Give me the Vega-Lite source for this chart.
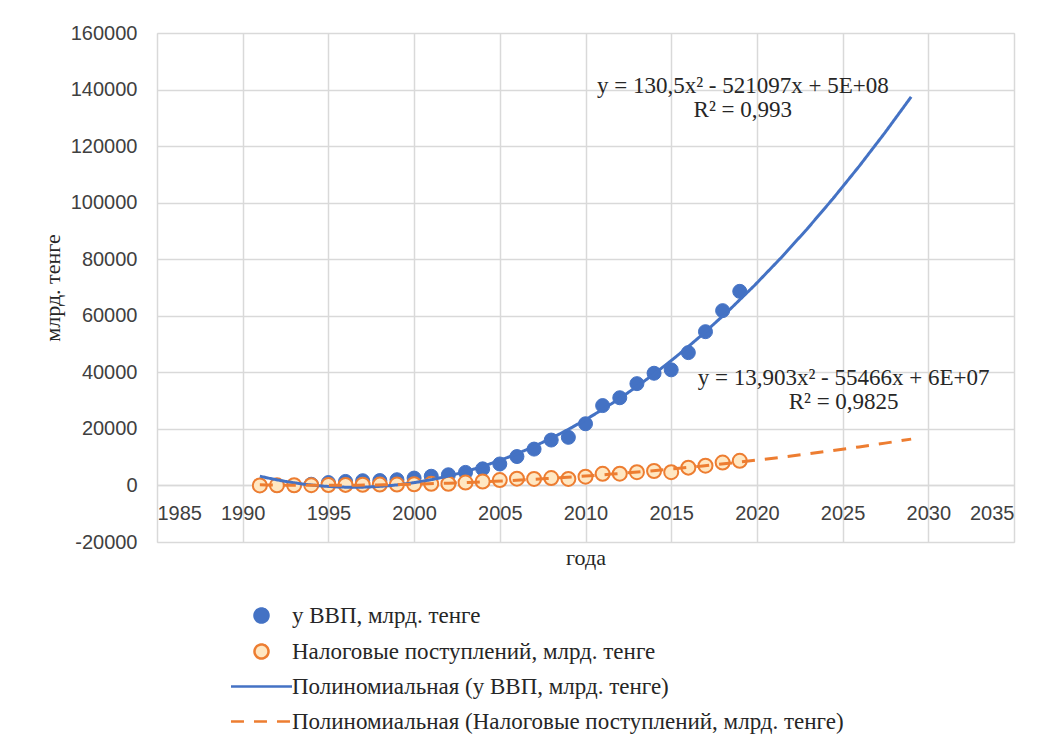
{
  "$schema": "https://vega.github.io/schema/vega-lite/v6.json",
  "width": 857,
  "height": 509,
  "autosize": {"type": "none"},
  "padding": {"left": 157, "top": 33, "right": 35, "bottom": 203},
  "background": "white",
  "config": {
    "view": {"stroke": "#d9d9d9"},
    "axis": {
      "gridColor": "#d9d9d9",
      "gridWidth": 1.5,
      "domainColor": "#d9d9d9",
      "domainWidth": 1.5,
      "ticks": false,
      "tickSize": 0,
      "labelFont": "Liberation Sans",
      "labelFontSize": 20,
      "labelColor": "#404040",
      "titleFont": "Liberation Serif",
      "titleFontSize": 22,
      "titleFontWeight": "normal",
      "titleColor": "#262626"
    },
    "legend": {"padding": 0}
  },
  "datasets": {
    "main": [
      {"year": 1991, "series": "у ВВП, млрд. тенге", "value": 1},
      {"year": 1992, "series": "у ВВП, млрд. тенге", "value": 3},
      {"year": 1993, "series": "у ВВП, млрд. тенге", "value": 29},
      {"year": 1994, "series": "у ВВП, млрд. тенге", "value": 424},
      {"year": 1995, "series": "у ВВП, млрд. тенге", "value": 1014},
      {"year": 1996, "series": "у ВВП, млрд. тенге", "value": 1416},
      {"year": 1997, "series": "у ВВП, млрд. тенге", "value": 1672},
      {"year": 1998, "series": "у ВВП, млрд. тенге", "value": 1733},
      {"year": 1999, "series": "у ВВП, млрд. тенге", "value": 2017},
      {"year": 2000, "series": "у ВВП, млрд. тенге", "value": 2600},
      {"year": 2001, "series": "у ВВП, млрд. тенге", "value": 3251},
      {"year": 2002, "series": "у ВВП, млрд. тенге", "value": 3776},
      {"year": 2003, "series": "у ВВП, млрд. тенге", "value": 4612},
      {"year": 2004, "series": "у ВВП, млрд. тенге", "value": 5870},
      {"year": 2005, "series": "у ВВП, млрд. тенге", "value": 7591},
      {"year": 2006, "series": "у ВВП, млрд. тенге", "value": 10214},
      {"year": 2007, "series": "у ВВП, млрд. тенге", "value": 12850},
      {"year": 2008, "series": "у ВВП, млрд. тенге", "value": 16053},
      {"year": 2009, "series": "у ВВП, млрд. тенге", "value": 17008},
      {"year": 2010, "series": "у ВВП, млрд. тенге", "value": 21816},
      {"year": 2011, "series": "у ВВП, млрд. тенге", "value": 28243},
      {"year": 2012, "series": "у ВВП, млрд. тенге", "value": 31015},
      {"year": 2013, "series": "у ВВП, млрд. тенге", "value": 35999},
      {"year": 2014, "series": "у ВВП, млрд. тенге", "value": 39676},
      {"year": 2015, "series": "у ВВП, млрд. тенге", "value": 40884},
      {"year": 2016, "series": "у ВВП, млрд. тенге", "value": 46971},
      {"year": 2017, "series": "у ВВП, млрд. тенге", "value": 54379},
      {"year": 2018, "series": "у ВВП, млрд. тенге", "value": 61820},
      {"year": 2019, "series": "у ВВП, млрд. тенге", "value": 68640},
      {"year": 1991, "series": "Налоговые поступлений, млрд. тенге", "value": 10},
      {"year": 1992, "series": "Налоговые поступлений, млрд. тенге", "value": 30},
      {"year": 1993, "series": "Налоговые поступлений, млрд. тенге", "value": 60},
      {"year": 1994, "series": "Налоговые поступлений, млрд. тенге", "value": 100},
      {"year": 1995, "series": "Налоговые поступлений, млрд. тенге", "value": 150},
      {"year": 1996, "series": "Налоговые поступлений, млрд. тенге", "value": 200},
      {"year": 1997, "series": "Налоговые поступлений, млрд. тенге", "value": 250},
      {"year": 1998, "series": "Налоговые поступлений, млрд. тенге", "value": 290},
      {"year": 1999, "series": "Налоговые поступлений, млрд. тенге", "value": 300},
      {"year": 2000, "series": "Налоговые поступлений, млрд. тенге", "value": 420},
      {"year": 2001, "series": "Налоговые поступлений, млрд. тенге", "value": 560},
      {"year": 2002, "series": "Налоговые поступлений, млрд. тенге", "value": 600},
      {"year": 2003, "series": "Налоговые поступлений, млрд. тенге", "value": 1000},
      {"year": 2004, "series": "Налоговые поступлений, млрд. тенге", "value": 1400},
      {"year": 2005, "series": "Налоговые поступлений, млрд. тенге", "value": 1900},
      {"year": 2006, "series": "Налоговые поступлений, млрд. тенге", "value": 2400},
      {"year": 2007, "series": "Налоговые поступлений, млрд. тенге", "value": 2300},
      {"year": 2008, "series": "Налоговые поступлений, млрд. тенге", "value": 2600},
      {"year": 2009, "series": "Налоговые поступлений, млрд. тенге", "value": 2300},
      {"year": 2010, "series": "Налоговые поступлений, млрд. тенге", "value": 3100},
      {"year": 2011, "series": "Налоговые поступлений, млрд. тенге", "value": 4100},
      {"year": 2012, "series": "Налоговые поступлений, млрд. тенге", "value": 4150},
      {"year": 2013, "series": "Налоговые поступлений, млрд. тенге", "value": 4700},
      {"year": 2014, "series": "Налоговые поступлений, млрд. тенге", "value": 5100},
      {"year": 2015, "series": "Налоговые поступлений, млрд. тенге", "value": 4700},
      {"year": 2016, "series": "Налоговые поступлений, млрд. тенге", "value": 6300},
      {"year": 2017, "series": "Налоговые поступлений, млрд. тенге", "value": 7000},
      {"year": 2018, "series": "Налоговые поступлений, млрд. тенге", "value": 8100},
      {"year": 2019, "series": "Налоговые поступлений, млрд. тенге", "value": 8700}
    ],
    "labels": [
      {"year": 2019.18, "value": 138900, "text": ["y = 130,5x² - 521097x + 5E+08", "R² = 0,993"]},
      {"year": 2025.06, "value": 35600, "text": ["y = 13,903x² - 55466x + 6E+07", "R² = 0,9825"]}
    ]
  },
  "encoding": {
    "x": {
      "field": "year",
      "type": "quantitative",
      "scale": {"domain": [1985, 2035], "nice": false, "zero": false},
      "axis": {
        "title": "года",
        "values": [1985, 1990, 1995, 2000, 2005, 2010, 2015, 2020, 2025, 2030, 2035],
        "format": "d",
        "offset": -57,
        "labelPadding": 18,
        "titlePadding": 24
      }
    },
    "y": {
      "field": "value",
      "type": "quantitative",
      "scale": {"domain": [-20000, 160000], "nice": false},
      "axis": {
        "title": "млрд. тенге",
        "values": [-20000, 0, 20000, 40000, 60000, 80000, 100000, 120000, 140000, 160000],
        "labelExpr": "'' + datum.value",
        "labelPadding": 20,
        "titlePadding": 6,
        "domain": false
      }
    }
  },
  "layer": [
    {
      "data": {"name": "main"},
      "transform": [{"filter": "datum.series === 'у ВВП, млрд. тенге'"}],
      "mark": {"type": "point", "filled": true, "size": 196, "opacity": 1, "strokeWidth": 1},
      "encoding": {
        "fill": {
          "field": "series",
          "type": "nominal",
          "scale": {
            "domain": ["у ВВП, млрд. тенге", "Налоговые поступлений, млрд. тенге", "Полиномиальная (у ВВП, млрд. тенге)", "Полиномиальная (Налоговые поступлений, млрд. тенге)"],
            "range": ["#4472C4", "#FFE7C2", "#4472C4", "#ED7D31"]
          },
          "legend": {
            "title": null,
            "orient": "none",
            "legendX": 93,
            "legendY": 571,
            "direction": "vertical",
            "symbolSize": 196,
            "symbolStrokeWidth": 2.5,
            "symbolOpacity": 1,
            "labelFont": "Liberation Serif",
            "labelFontSize": 23,
            "labelColor": "#262626",
            "labelLimit": 0,
            "labelOffset": 19,
            "rowPadding": 11
          }
        },
        "stroke": {
          "field": "series",
          "type": "nominal",
          "scale": {
            "domain": ["у ВВП, млрд. тенге", "Налоговые поступлений, млрд. тенге", "Полиномиальная (у ВВП, млрд. тенге)", "Полиномиальная (Налоговые поступлений, млрд. тенге)"],
            "range": ["#4472C4", "#ED7D31", "#4472C4", "#ED7D31"]
          },
          "legend": {"title": null}
        },
        "shape": {
          "field": "series",
          "type": "nominal",
          "scale": {
            "domain": ["у ВВП, млрд. тенге", "Налоговые поступлений, млрд. тенге", "Полиномиальная (у ВВП, млрд. тенге)", "Полиномиальная (Налоговые поступлений, млрд. тенге)"],
            "range": ["circle", "circle", "M-4.36,0H4.36", "M-4.36,0H4.36"]
          },
          "legend": {"title": null}
        }
      }
    },
    {
      "data": {"name": "main"},
      "transform": [{"filter": "datum.series === 'Налоговые поступлений, млрд. тенге'"}],
      "mark": {"type": "point", "filled": true, "size": 196, "strokeWidth": 2, "opacity": 1},
      "encoding": {
        "fill": {"field": "series", "type": "nominal"},
        "stroke": {"field": "series", "type": "nominal"},
        "shape": {"field": "series", "type": "nominal"}
      }
    },
    {
      "data": {"name": "main"},
      "transform": [
        {"filter": "datum.series === 'у ВВП, млрд. тенге'"},
        {"regression": "value", "on": "year", "method": "poly", "order": 2, "extent": [1991, 2029]}
      ],
      "mark": {"type": "line", "strokeWidth": 3},
      "encoding": {
        "stroke": {"datum": "Полиномиальная (у ВВП, млрд. тенге)", "type": "nominal"},
        "strokeDash": {
          "datum": "Полиномиальная (у ВВП, млрд. тенге)",
          "type": "nominal",
          "scale": {
            "domain": ["у ВВП, млрд. тенге", "Налоговые поступлений, млрд. тенге", "Полиномиальная (у ВВП, млрд. тенге)", "Полиномиальная (Налоговые поступлений, млрд. тенге)"],
            "range": [[1, 0], [1, 0], [1, 0], [13, 10]]
          },
          "legend": {"title": null}
        }
      }
    },
    {
      "data": {"name": "main"},
      "transform": [
        {"filter": "datum.series === 'Налоговые поступлений, млрд. тенге'"},
        {"regression": "value", "on": "year", "method": "poly", "order": 2, "extent": [1991, 2029]}
      ],
      "mark": {"type": "line", "strokeWidth": 3},
      "encoding": {
        "stroke": {"datum": "Полиномиальная (Налоговые поступлений, млрд. тенге)", "type": "nominal"},
        "strokeDash": {"datum": "Полиномиальная (Налоговые поступлений, млрд. тенге)", "type": "nominal"}
      }
    },
    {
      "data": {"name": "labels"},
      "mark": {"type": "text", "font": "Liberation Serif", "fontSize": 23, "lineHeight": 24, "align": "center", "baseline": "alphabetic", "color": "#262626"},
      "encoding": {
        "text": {"field": "text"}
      }
    }
  ]
}
